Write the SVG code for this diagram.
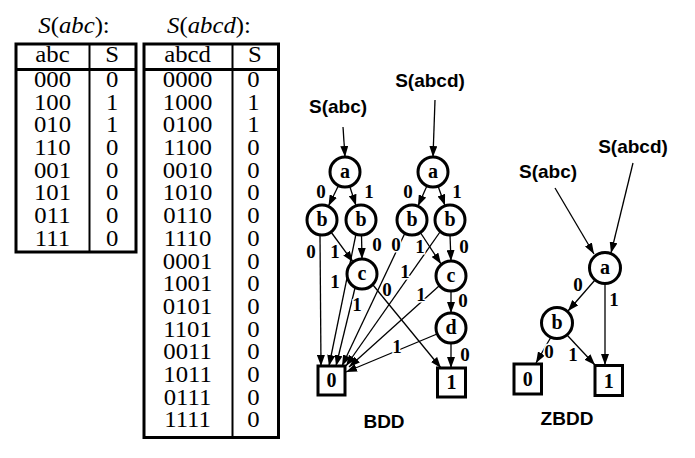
<svg xmlns="http://www.w3.org/2000/svg" width="695" height="458" viewBox="0 0 695 458">
<style>
.tbl{fill:none;stroke:#000;stroke-width:3}
.div{stroke:#000;stroke-width:2}
.tt{font-family:"Liberation Serif",serif;font-size:22.5px;fill:#000;text-anchor:middle}
.it{font-style:italic}
.nd{fill:#fff;stroke:#000;stroke-width:3}
.nl{font-family:"Liberation Serif",serif;font-weight:bold;font-size:20px;text-anchor:middle;fill:#000}
.el{font-family:"Liberation Serif",serif;font-weight:bold;font-size:19px;text-anchor:middle;fill:#000;stroke:#fff;stroke-width:3;paint-order:stroke}
.sl{font-family:"Liberation Sans",Arial,sans-serif;font-weight:bold;font-size:19px;text-anchor:middle;fill:#000}
.e{stroke:#000;stroke-width:1.3;fill:none;marker-end:url(#ah)}
</style>
<defs>
<marker id="ah" markerUnits="userSpaceOnUse" markerWidth="11" markerHeight="8" refX="11" refY="4" orient="auto">
<path d="M0,0 L11,4 L0,8 z" fill="#000"/>
</marker>
</defs>
<rect width="695" height="458" fill="#fff"/>

<!-- Table 1 -->
<g id="table-abc">
<rect class="tbl" x="16" y="44" width="120" height="208"/>
<line class="tbl" x1="16" y1="69.5" x2="136" y2="69.5"/>
<line class="div" x1="89.5" y1="44" x2="89.5" y2="252"/>
<g transform="scale(1.1,1)">
<text class="tt" x="67.3" y="33"><tspan class="it">S</tspan>(<tspan class="it">abc</tspan>):</text>
<text class="tt" x="47.7" y="62">abc</text><text class="tt" x="102" y="62">S</text>
<text class="tt" x="47.7" y="87">000</text><text class="tt" x="102" y="87">0</text>
<text class="tt" x="47.7" y="109.7">100</text><text class="tt" x="102" y="109.7">1</text>
<text class="tt" x="47.7" y="132.4">010</text><text class="tt" x="102" y="132.4">1</text>
<text class="tt" x="47.7" y="155.1">110</text><text class="tt" x="102" y="155.1">0</text>
<text class="tt" x="47.7" y="177.8">001</text><text class="tt" x="102" y="177.8">0</text>
<text class="tt" x="47.7" y="200.5">101</text><text class="tt" x="102" y="200.5">0</text>
<text class="tt" x="47.7" y="223.2">011</text><text class="tt" x="102" y="223.2">0</text>
<text class="tt" x="47.7" y="245.9">111</text><text class="tt" x="102" y="245.9">0</text>
</g>
</g>

<!-- Table 2 -->
<g id="table-abcd">
<rect class="tbl" x="144" y="44" width="134.5" height="393.5"/>
<line class="tbl" x1="144" y1="69.5" x2="278.5" y2="69.5"/>
<line class="div" x1="232.5" y1="44" x2="232.5" y2="437.5"/>
<g transform="scale(1.1,1)">
<text class="tt" x="190" y="33"><tspan class="it">S</tspan>(<tspan class="it">abcd</tspan>):</text>
<text class="tt" x="170.5" y="62">abcd</text><text class="tt" x="231.8" y="62">S</text>
<text class="tt" x="170.5" y="87">0000</text><text class="tt" x="230.5" y="87">0</text>
<text class="tt" x="170.5" y="109.7">1000</text><text class="tt" x="230.5" y="109.7">1</text>
<text class="tt" x="170.5" y="132.4">0100</text><text class="tt" x="230.5" y="132.4">1</text>
<text class="tt" x="170.5" y="155.1">1100</text><text class="tt" x="230.5" y="155.1">0</text>
<text class="tt" x="170.5" y="177.8">0010</text><text class="tt" x="230.5" y="177.8">0</text>
<text class="tt" x="170.5" y="200.5">1010</text><text class="tt" x="230.5" y="200.5">0</text>
<text class="tt" x="170.5" y="223.2">0110</text><text class="tt" x="230.5" y="223.2">0</text>
<text class="tt" x="170.5" y="245.9">1110</text><text class="tt" x="230.5" y="245.9">0</text>
<text class="tt" x="170.5" y="268.6">0001</text><text class="tt" x="230.5" y="268.6">0</text>
<text class="tt" x="170.5" y="291.3">1001</text><text class="tt" x="230.5" y="291.3">0</text>
<text class="tt" x="170.5" y="314">0101</text><text class="tt" x="230.5" y="314">0</text>
<text class="tt" x="170.5" y="336.7">1101</text><text class="tt" x="230.5" y="336.7">0</text>
<text class="tt" x="170.5" y="359.4">0011</text><text class="tt" x="230.5" y="359.4">0</text>
<text class="tt" x="170.5" y="382.1">1011</text><text class="tt" x="230.5" y="382.1">0</text>
<text class="tt" x="170.5" y="404.8">0111</text><text class="tt" x="230.5" y="404.8">0</text>
<text class="tt" x="170.5" y="427.5">1111</text><text class="tt" x="230.5" y="427.5">0</text>
</g>
</g>

<!-- Connectors -->
<g id="connectors">
<!-- BDD left -->
<line class="e" x1="343" y1="127" x2="345" y2="157"/>
<line class="e" x1="338.5" y1="185.5" x2="328.5" y2="206"/>
<line class="e" x1="349.7" y1="186.2" x2="356" y2="205.5"/>
<line class="e" x1="320" y1="235" x2="321" y2="366"/>
<line class="e" x1="331" y1="232" x2="353" y2="262"/>
<line class="e" x1="361.5" y1="235" x2="362" y2="259"/>
<line class="e" x1="356" y1="234" x2="329" y2="366"/>
<line class="e" x1="355" y1="288" x2="336" y2="366"/>
<line class="e" x1="373" y1="285" x2="441" y2="368"/>
<!-- BDD right -->
<line class="e" x1="435" y1="100" x2="433" y2="157"/>
<line class="e" x1="427" y1="185.7" x2="418" y2="206"/>
<line class="e" x1="438" y1="186" x2="445" y2="205.5"/>
<line class="e" x1="405" y1="233" x2="342" y2="366"/>
<line class="e" x1="420" y1="232" x2="441" y2="264"/>
<line class="e" x1="450" y1="235" x2="451" y2="261"/>
<line class="e" x1="440" y1="232" x2="346" y2="366"/>
<line class="e" x1="439" y1="286" x2="349" y2="367"/>
<line class="e" x1="451" y1="291" x2="451" y2="313"/>
<line class="e" x1="451" y1="343" x2="451" y2="368"/>
<line class="e" x1="437" y1="334" x2="346" y2="372"/>
<!-- ZBDD -->
<line class="e" x1="555" y1="188" x2="594" y2="254"/>
<line class="e" x1="633" y1="163" x2="611" y2="253"/>
<line class="e" x1="595" y1="280" x2="568" y2="311"/>
<line class="e" x1="605" y1="284" x2="605" y2="365"/>
<line class="e" x1="551" y1="337" x2="536" y2="363"/>
<line class="e" x1="567" y1="335" x2="595" y2="365"/>
<!-- edge labels -->
<text class="el" x="321" y="198">0</text>
<text class="el" x="369" y="198">1</text>
<text class="el" x="311" y="258">0</text>
<text class="el" x="335" y="258">1</text>
<text class="el" x="377" y="251">0</text>
<text class="el" x="335" y="288">1</text>
<text class="el" x="357" y="311">1</text>
<text class="el" x="387" y="296">0</text>
<text class="el" x="408" y="198">0</text>
<text class="el" x="457" y="198">1</text>
<text class="el" x="396" y="251">0</text>
<text class="el" x="420" y="253">1</text>
<text class="el" x="464" y="253">0</text>
<text class="el" x="405" y="278">1</text>
<text class="el" x="421" y="301">1</text>
<text class="el" x="463" y="307">0</text>
<text class="el" x="465" y="361">0</text>
<text class="el" x="397" y="353">1</text>
<text class="el" x="578" y="291">0</text>
<text class="el" x="614" y="306">1</text>
<text class="el" x="549" y="358">0</text>
<text class="el" x="573" y="361">1</text>
</g>

<!-- BDD nodes -->
<g id="bdd-a1"><circle class="nd" cx="345" cy="172" r="15"/><text class="nl" x="345" y="178">a</text></g>
<g id="bdd-b1l"><circle class="nd" cx="322" cy="220" r="15"/><text class="nl" x="322" y="226">b</text></g>
<g id="bdd-b1r"><circle class="nd" cx="361" cy="220" r="15"/><text class="nl" x="361" y="226">b</text></g>
<g id="bdd-c1"><circle class="nd" cx="362" cy="274" r="15"/><text class="nl" x="362" y="280">c</text></g>
<g id="bdd-a2"><circle class="nd" cx="433" cy="172" r="15"/><text class="nl" x="433" y="178">a</text></g>
<g id="bdd-b2l"><circle class="nd" cx="412" cy="220" r="15"/><text class="nl" x="412" y="226">b</text></g>
<g id="bdd-b2r"><circle class="nd" cx="450" cy="220" r="15"/><text class="nl" x="450" y="226">b</text></g>
<g id="bdd-c2"><circle class="nd" cx="451" cy="276" r="15"/><text class="nl" x="451" y="282">c</text></g>
<g id="bdd-d2"><circle class="nd" cx="451" cy="328" r="15"/><text class="nl" x="451" y="334">d</text></g>
<g id="bdd-t0"><rect class="nd" x="318" y="366" width="27" height="29"/><text class="nl" x="331.5" y="387">0</text></g>
<g id="bdd-t1"><rect class="nd" x="437.5" y="368" width="28" height="29"/><text class="nl" x="451.5" y="389">1</text></g>
<g id="bdd-roots"><text class="sl" x="338" y="113">S(abc)</text><text class="sl" x="430" y="87">S(abcd)</text></g>
<g id="bdd-title"><text class="sl" x="384" y="428">BDD</text></g>

<!-- ZBDD nodes -->
<g id="zbdd-a"><circle class="nd" cx="605" cy="268" r="15.5"/><text class="nl" x="605" y="274">a</text></g>
<g id="zbdd-b"><circle class="nd" cx="557" cy="323" r="15.5"/><text class="nl" x="557" y="329">b</text></g>
<g id="zbdd-t0"><rect class="nd" x="514" y="364" width="27.5" height="30"/><text class="nl" x="527.7" y="386">0</text></g>
<g id="zbdd-t1"><rect class="nd" x="595" y="365.5" width="27.5" height="30"/><text class="nl" x="608.7" y="387.5">1</text></g>
<g id="zbdd-roots"><text class="sl" x="548" y="178">S(abc)</text><text class="sl" x="633" y="153">S(abcd)</text></g>
<g id="zbdd-title"><text class="sl" x="567" y="425">ZBDD</text></g>
</svg>
